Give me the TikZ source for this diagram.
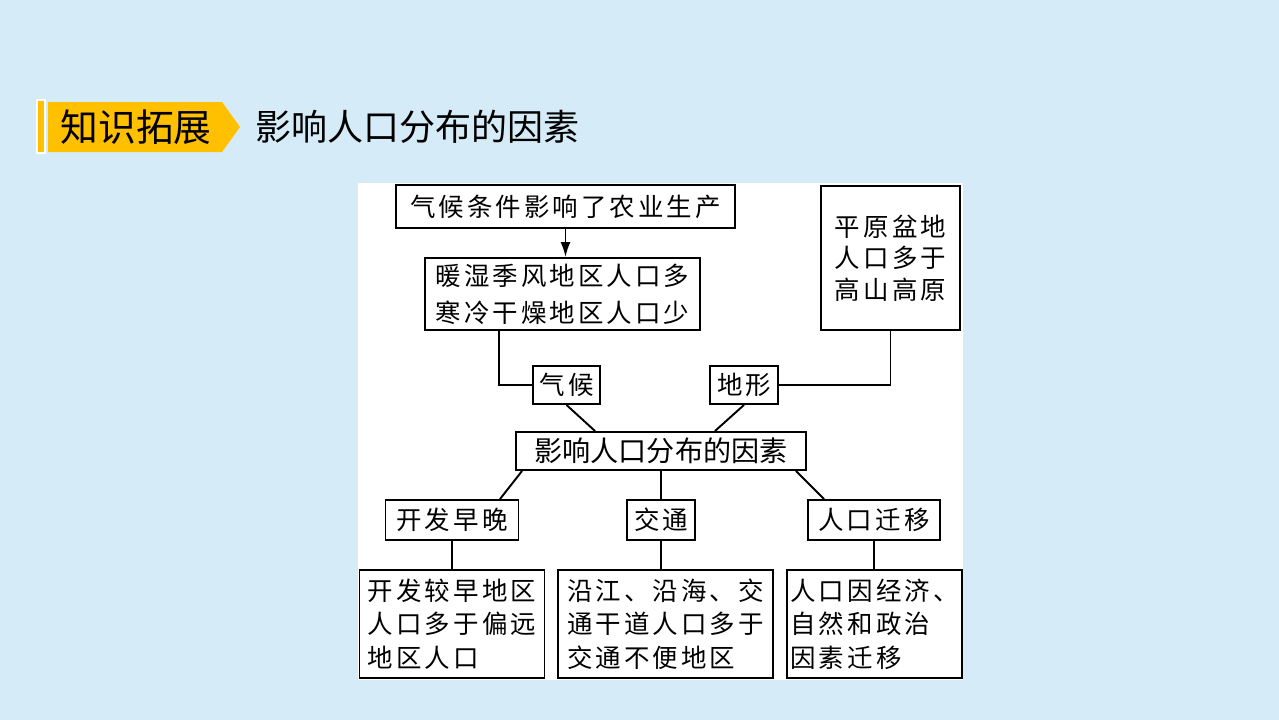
\documentclass[tikz,border=0pt]{standalone}
\usepackage{fontspec}
\newfontfamily\cjk{Noto Sans CJK SC}
\newfontfamily\cjksp{Noto Sans CJK SC}[LetterSpace=12]
\usetikzlibrary{arrows.meta}
\definecolor{bgblue}{RGB}{213,235,247}
\definecolor{tabyellow}{RGB}{255,192,0}

\tikzset{
  box/.style={draw, line width=1.1pt, fill=white, inner sep=0pt,
    font=\cjksp\fontsize{14.5}{19}\selectfont},
  textbox/.style={box, align=left},
  link/.style={line width=1.1pt},
}

\begin{document}
\begin{tikzpicture}[x=0.02cm, y=-0.02cm]
\useasboundingbox (0,0) rectangle (1279,720);
\fill[bgblue] (0,0) rectangle (1279,720);

% header
\filldraw[fill=tabyellow, draw=white, line width=1pt] (37,100) rectangle (45,153);
\fill[tabyellow] (48,102) -- (222,102) -- (240,127) -- (222,152) -- (48,152) -- cycle;
\node (tab) at (136,127) {\cjk\fontsize{21.5}{25}\selectfont 知识拓展};
\node[anchor=west, inner sep=0pt] (title) at (255,127) {\cjk\fontsize{20.5}{25}\selectfont 影响人口分布的因素};

% panel
\fill[white] (358,183) rectangle (963,680);

% upper part
\node[box, minimum width=6.78cm, minimum height=0.86cm] (top) at (565.5,206.5) {气候条件影响了农业生产};
\node[textbox, minimum width=5.5cm, minimum height=1.44cm,
  font=\cjksp\fontsize{14.5}{21}\selectfont] (warm) at (562.5,294) {暖湿季风地区人口多\\寒冷干燥地区人口少};
\node[textbox, minimum width=2.78cm, minimum height=2.88cm,
  font=\cjksp\fontsize{14.5}{18}\selectfont] (plain) at (890.5,258) {平原盆地\\人口多于\\高山高原};
\node[box, minimum width=1.34cm, minimum height=0.76cm] (climate) at (566.5,385) {气候};
\node[box, minimum width=1.36cm, minimum height=0.76cm] (terrain) at (744,385) {地形};

% centre
\node[box, minimum width=5.8cm, minimum height=0.76cm,
  font=\cjk\fontsize{16}{19}\selectfont] (factor) at (661,451) {影响人口分布的因素};

% lower part
\node[box, minimum width=2.66cm, minimum height=0.8cm] (dev) at (452,520) {开发早晚};
\node[box, minimum width=1.36cm, minimum height=0.8cm] (traffic) at (661,520) {交通};
\node[box, minimum width=2.64cm, minimum height=0.8cm] (migr) at (874,520) {人口迁移};

\node[textbox, minimum width=3.7cm, minimum height=2.16cm] (devtxt) at (452,624) {开发较早地区\\人口多于偏远\\地区人口};
\node[textbox, minimum width=4.3cm, minimum height=2.16cm] (traftxt) at (665.5,624) {沿江、沿海、交\\通干道人口多于\\交通不便地区};
\node[textbox, minimum width=3.5cm, minimum height=2.16cm] (migrtxt) at (874.5,624) {人口因经济、\\自然和政治\\因素迁移};

% connectors
\draw[link, -{Latex[length=3mm, width=2mm]}] (top.south) -- (top.south |- warm.north);
\draw[link] ([xshift=1.5cm]warm.south west) |- (climate.west);
\draw[link] (plain.south) |- (terrain.east);
\draw[link] (climate.south) -- ([xshift=1.6cm]factor.north west);
\draw[link] (terrain.south) -- ([xshift=-1.84cm]factor.north east);

\draw[link] ([xshift=0.14cm]factor.south west) -- ([xshift=0.96cm]dev.north);
\draw[link] (factor.south) -- (traffic.north);
\draw[link] ([xshift=-0.22cm]factor.south east) -- ([xshift=-1cm]migr.north);

\draw[link] (dev.south) -- (devtxt.north);
\draw[link] (traffic.south) -- (traffic.south |- traftxt.north);
\draw[link] (migr.south) -- (migr.south |- migrtxt.north);
\end{tikzpicture}
\end{document}
